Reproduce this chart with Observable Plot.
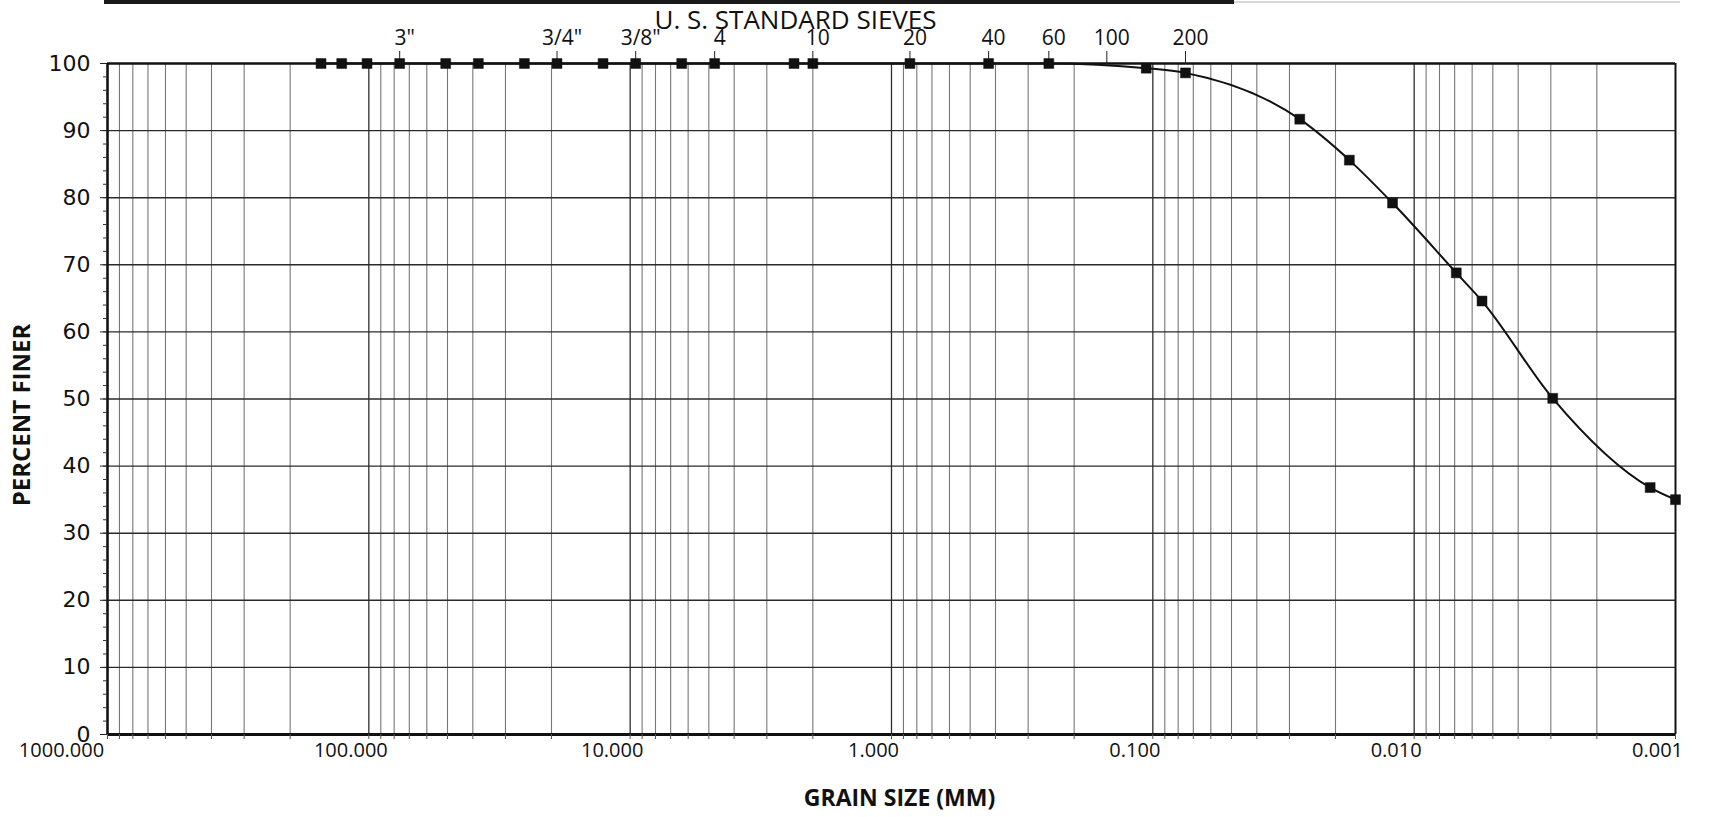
<!DOCTYPE html>
<html>
<head>
<meta charset="utf-8">
<script src="https://cdn.jsdelivr.net/npm/d3@7"></script>
<script src="https://cdn.jsdelivr.net/npm/@observablehq/plot@0.6"></script>
<style>
  html, body { margin: 0; padding: 0; background: #fff; }
  #wrap { position: relative; width: 1712px; height: 817px; overflow: hidden; background: #fff; }
  #scanbar { position: absolute; z-index: 2; left: 104px; top: 0; width: 1130px; height: 4px; background: #1a1a1a; }
  #scanbar2 { position: absolute; z-index: 2; left: 1234px; top: 1px; width: 446px; height: 2px; background: #d8d8d8; }
</style>
</head>
<body>
<div id="wrap"><div id="scanbar"></div><div id="scanbar2"></div></div>
<script>
// Grain size (mm) and percent finer
const grainSize = [152.4, 127, 101.6, 76.2, 50.8, 38.1, 25.4, 19.05, 12.7, 9.525, 6.35, 4.75, 2.36, 2.0, 0.85, 0.425, 0.25,
                   0.106, 0.075, 0.0274, 0.0177, 0.0121, 0.0069, 0.0055, 0.00295, 0.00125, 0.001];
const percentFiner = [100, 100, 100, 100, 100, 100, 100, 100, 100, 100, 100, 100, 100, 100, 100, 100, 100,
                      99.3, 98.6, 91.7, 85.6, 79.2, 68.8, 64.6, 50.1, 36.8, 35.0];

// U.S. standard sieve openings (mm) and their labels
const sieveSizes = [76.2, 19.05, 9.525, 4.75, 2.0, 0.85, 0.425, 0.25, 0.15, 0.075];
const sieveLabels = ['3"', '3/4"', '3/8"', '4', '10', '20', '40', '60', '100', '200'];

// Axis ticks
const decadeTicks = [1000, 100, 10, 1, 0.1, 0.01, 0.001];
const gridMultiples = [1, 2, 3, 4, 5, 6, 7, 8, 9];
const yTicks = [0, 10, 20, 30, 40, 50, 60, 70, 80, 90, 100];
const yMinorTicks = d3.range(0, 101, 2);

const data = grainSize.map((s, i) => ({size: s, pct: percentFiner[i]}));
const sieves = sieveSizes.map((s, i) => ({size: s, label: sieveLabels[i]}));
const gridX = decadeTicks.slice(1).flatMap(d => gridMultiples.map(m => +(m * d).toPrecision(6))).concat([1000]);
const minorGridX = gridX.filter(v => !decadeTicks.includes(v));

const sans = "'Open Sans', sans-serif";

const chart = Plot.plot({
  width: 1712,
  height: 817,
  marginLeft: 107,
  marginRight: 37,
  marginTop: 63,
  marginBottom: 83,
  style: {fontFamily: sans, background: "transparent", color: "#111"},
  x: {type: "log", domain: [1000, 0.001], label: null},
  y: {domain: [0, 100], label: null},
  marks: [
    // vertical grid
    Plot.ruleX(minorGridX, {y1: 0, y2: 100, stroke: "#777", strokeWidth: 1.1}),
    Plot.ruleX(decadeTicks, {y1: 0, y2: 100, stroke: "#2e2e2e", strokeWidth: 1.3}),
    // horizontal grid
    Plot.ruleY(yTicks.filter(v => v > 0 && v < 100), {stroke: "#2a2a2a", strokeWidth: 1.4}),
    // frame
    Plot.ruleY([100], {stroke: "#111", strokeWidth: 2.5}),
    Plot.ruleY([0], {stroke: "#111", strokeWidth: 3}),
    Plot.ruleX([1000], {y1: 0, y2: 100, stroke: "#111", strokeWidth: 2.5}),
    Plot.ruleX([0.001], {y1: 0, y2: 100, stroke: "#111", strokeWidth: 1.8}),
    // bottom minor ticks
    Plot.axisX(gridX, {anchor: "bottom", tickSize: 5, tickFormat: () => "", stroke: "#555", label: null}),
    // bottom labels
    Plot.axisX(decadeTicks.slice(1), {anchor: "bottom", tickSize: 0, tickPadding: 8, dx: -18, label: null,
      tickFormat: d => d.toFixed(3), fontSize: 20, fontFamily: sans}),
    Plot.axisX([1000], {anchor: "bottom", tickSize: 0, tickPadding: 8, dx: -46, label: null,
      tickFormat: d => d.toFixed(3), fontSize: 20, fontFamily: sans}),
    // top sieve ticks and labels
    Plot.axisX(sieveSizes, {anchor: "top", tickSize: 13, tickFormat: () => "", stroke: "#222", label: null}),
    Plot.text(sieves, {x: "size", text: "label", frameAnchor: "top", dx: 5, dy: -33, fontSize: 21,
      fontFamily: sans, fill: "#111"}),
    // y axis
    Plot.axisY(yMinorTicks, {anchor: "left", tickSize: 4, tickFormat: () => "", stroke: "#333", label: null}),
    Plot.axisY(yTicks, {anchor: "left", tickSize: 7, tickPadding: 10, fontSize: 22, label: null,
      fontFamily: "'DejaVu Sans', sans-serif", stroke: "#222", letterSpacing: 2}),
    // titles
    Plot.text(["U. S. STANDARD SIEVES"], {frameAnchor: "top-left", dx: 688, dy: -53, textAnchor: "middle",
      fontSize: 26, fontFamily: sans}),
    Plot.text(["PERCENT FINER"], {frameAnchor: "left", dx: -85, dy: 16, textAnchor: "middle", rotate: -90,
      fontSize: 24, fontWeight: "bold", fontFamily: sans}),
    Plot.text(["GRAIN SIZE (MM)"], {frameAnchor: "bottom", dx: 8, dy: 71, fontSize: 23,
      fontWeight: "bold", fontFamily: sans}),
    // data
    Plot.line(data, {x: "size", y: "pct", curve: "monotone-x", stroke: "#111", strokeWidth: 2}),
    Plot.dot(data, {x: "size", y: "pct", symbol: "square", r: 5.6, fill: "#111", stroke: "#111", strokeWidth: 0.5})
  ]
});
chart.style.position = "absolute";
chart.style.left = "0";
chart.style.top = "0";
document.getElementById("wrap").appendChild(chart);
</script>
</body>
</html>
